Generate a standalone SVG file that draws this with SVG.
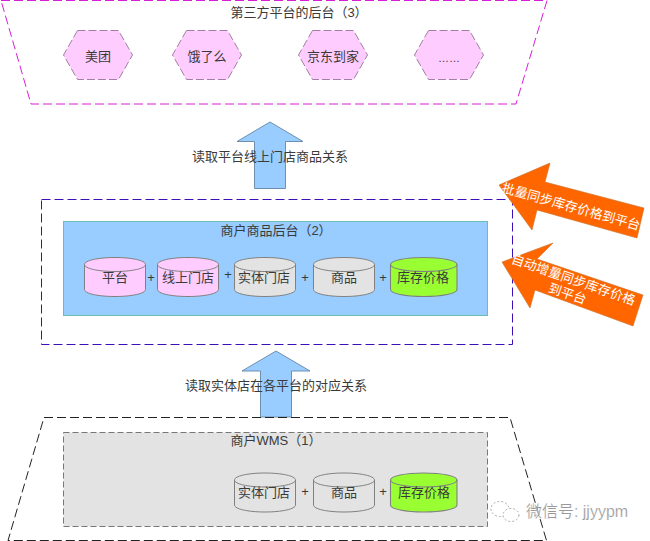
<svg xmlns="http://www.w3.org/2000/svg" width="650" height="541" viewBox="0 0 650 541">
<style>
text{font-family:"Liberation Sans","Noto Sans CJK SC",sans-serif;font-size:13px;fill:#3a3a3a;text-anchor:middle}
.hex{fill:#fcf;stroke:#a07fa0;stroke-width:1;stroke-dasharray:8 3}
.cyl{stroke:#808080;stroke-width:1}
.pink{fill:#fcf}.grey{fill:#e3e3e3}.green{fill:#9f3}
.up{fill:#9cf;stroke:#6f8fae;stroke-width:1}
.sync{fill:#f60;stroke:#c8702a;stroke-width:.6}
</style>
<defs>
<g id="c"><path d="M0 7V32C0 36 13.500 39 30.500 39S61 36 61 32V7C61 3 47.500 0 30.500 0S0 3 0 7Z"/><path d="M0 7C0 11 13.500 14 30.500 14S61 11 61 7" fill="none"/></g>
<path id="h" d="M-20.500 -24.500H20.500L34.500 0L20.500 24.500H-20.500L-34.500 0Z"/>
</defs>
<rect width="650" height="541" fill="#fff"/>
<g id="connectors">
<path class="up" d="M270 122L303 141.500H285.500V188.500H254.500V141.500H237Z"/>
<path class="up" d="M276 351L310 371H291.500V417H260.500V371H242Z"/>
</g>
<g id="platform-backend">
<path d="M1 .5H547L516 104H31Z" fill="none" stroke="#d61fd6" stroke-width="1" stroke-dasharray="9 4"/>
<text x="299" y="17">第三方平台的后台（3）</text>
</g>
<g id="meituan"><use href="#h" class="hex" x="98" y="55"/><text x="98" y="61">美团</text></g>
<g id="eleme"><use href="#h" class="hex" x="207" y="55"/><text x="207" y="61">饿了么</text></g>
<g id="jddj"><use href="#h" class="hex" x="333" y="55"/><text x="333" y="61">京东到家</text></g>
<g id="more"><use href="#h" class="hex" x="449" y="55"/><text x="449" y="62" style="font-size:11px">……</text></g>
<text x="270" y="161">读取平台线上门店商品关系</text>
<g id="merchant-backend">
<rect x="41.500" y="199.500" width="471" height="145" fill="none" stroke="#3c0fb8" stroke-width="1" stroke-dasharray="9 4"/>
<rect x="63.500" y="221.500" width="424" height="94" fill="#9cf" stroke="#6cbfb0" stroke-width="1"/>
<text x="276" y="235">商户商品后台（2）</text>
</g>
<g id="b-platform"><use href="#c" class="cyl pink" x="84.500" y="257.500"/><text x="115" y="282">平台</text></g>
<text x="151" y="282">+</text>
<g id="b-store"><use href="#c" class="cyl pink" x="157.500" y="257.500"/><text x="188" y="282">线上门店</text></g>
<text x="228" y="279">+</text>
<g id="b-shop"><use href="#c" class="cyl grey" x="234.500" y="257.500"/><text x="264" y="282">实体门店</text></g>
<text x="305" y="282">+</text>
<g id="b-goods"><use href="#c" class="cyl grey" x="313.500" y="257.500"/><text x="344" y="282">商品</text></g>
<text x="383" y="282">+</text>
<g id="b-stock"><use href="#c" class="cyl green" transform="translate(390.500 257.500) scale(1.090 1)"/><text x="423" y="282">库存价格</text></g>
<text x="276" y="390">读取实体店在各平台的对应关系</text>
<g id="wms">
<path d="M44 417.500H510L546.500 540.500H8Z" fill="none" stroke="#222" stroke-width="1" stroke-dasharray="9 4"/>
<rect x="63.500" y="432.500" width="424" height="94" fill="#e3e3e3" stroke="#777" stroke-width="1" stroke-dasharray="6 3"/>
<text x="276" y="445">商户WMS（1）</text>
</g>
<g id="w-shop"><use href="#c" class="cyl grey" x="234.500" y="473"/><text x="264" y="497">实体门店</text></g>
<text x="305" y="496">+</text>
<g id="w-goods"><use href="#c" class="cyl grey" x="313.500" y="473"/><text x="344" y="497">商品</text></g>
<text x="383" y="496">+</text>
<g id="w-stock"><use href="#c" class="cyl green" transform="translate(390.500 473) scale(1.090 1)"/><text x="424" y="497">库存价格</text></g>
<g id="batch-sync">
<path class="sync" d="M499 185L550 163L545 182L644 208L637 238L537 210L532 230Z"/>
<text transform="translate(570 211) rotate(15.500)" style="fill:#fff">批量同步库存价格到平台</text>
</g>
<g id="auto-sync">
<path class="sync" d="M502 262L553 243L537 259L643 295L633 326L535 290L530 308Z"/>
<text transform="translate(572 284) rotate(19)" style="fill:#fff">自动增量同步库存价格</text>
<text transform="translate(566 298) rotate(19)" style="fill:#fff">到平台</text>
</g>
<g id="watermark">
<ellipse cx="500" cy="509" rx="9" ry="7.500" fill="#fff" stroke="#aaa" stroke-width="1" stroke-dasharray="2 2"/>
<ellipse cx="511" cy="515" rx="8" ry="6.500" fill="#fff" stroke="#aaa" stroke-width="1" stroke-dasharray="2 2"/>
<text x="577" y="517" style="font-size:16px;fill:#999;stroke:#fff;stroke-width:.2">微信号: jjyypm</text>
</g>
</svg>
